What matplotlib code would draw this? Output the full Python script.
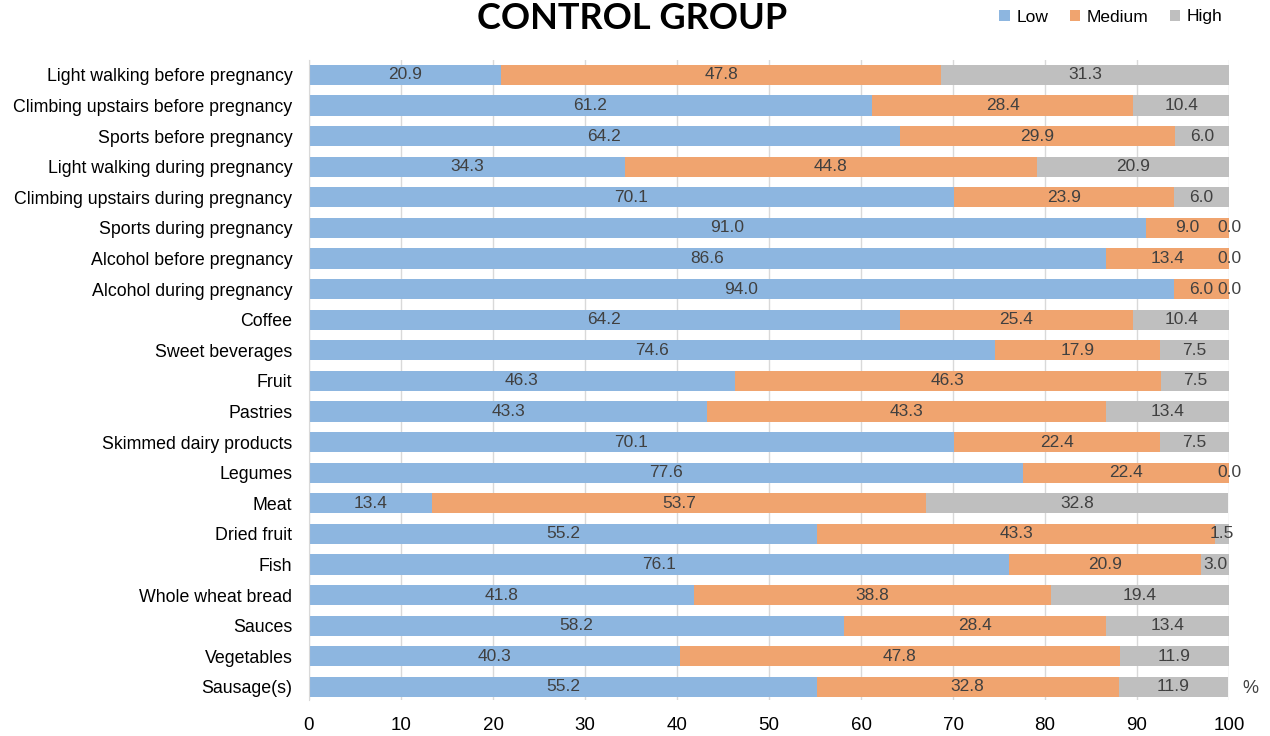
import numpy as np
import matplotlib.pyplot as plt
from matplotlib.patches import Patch

plt.rcParams['font.family'] = ['Liberation Sans', 'DejaVu Sans']

categories = [
    "Light walking before pregnancy",
    "Climbing upstairs before pregnancy",
    "Sports before pregnancy",
    "Light walking during pregnancy",
    "Climbing upstairs during pregnancy",
    "Sports during pregnancy",
    "Alcohol before pregnancy",
    "Alcohol during pregnancy",
    "Coffee",
    "Sweet beverages",
    "Fruit",
    "Pastries",
    "Skimmed dairy products",
    "Legumes",
    "Meat",
    "Dried fruit",
    "Fish",
    "Whole wheat bread",
    "Sauces",
    "Vegetables",
    "Sausage(s)",
]
low = [20.9, 61.2, 64.2, 34.3, 70.1, 91.0, 86.6, 94.0, 64.2, 74.6, 46.3,
       43.3, 70.1, 77.6, 13.4, 55.2, 76.1, 41.8, 58.2, 40.3, 55.2]
medium = [47.8, 28.4, 29.9, 44.8, 23.9, 9.0, 13.4, 6.0, 25.4, 17.9, 46.3,
          43.3, 22.4, 22.4, 53.7, 43.3, 20.9, 38.8, 28.4, 47.8, 32.8]
high = [31.3, 10.4, 6.0, 20.9, 6.0, 0.0, 0.0, 0.0, 10.4, 7.5, 7.5,
        13.4, 7.5, 0.0, 32.8, 1.5, 3.0, 19.4, 13.4, 11.9, 11.9]
series_names = ["Low", "Medium", "High"]
colors = ["#8DB6E0", "#F0A46F", "#BFBFBF"]
txt = "#404040"

fig = plt.figure(figsize=(12.7, 7.36), dpi=100)
ax = fig.add_axes([309 / 1270, 1 - 700 / 736, 920 / 1270, 640 / 736])

y = np.arange(len(categories))
left = np.zeros(len(categories))
for vals, name, col in zip([low, medium, high], series_names, colors):
    vals = np.array(vals)
    ax.barh(y, vals, left=left, height=0.66, color=col, label=name, zorder=2)
    for yi, l, v in zip(y, left, vals):
        ax.text(l + v / 2, yi, f"{v:.1f}", ha="center", va="center",
                fontsize=12.5, color=txt, zorder=3)
    left = left + vals

# 30.6 px per row, first row 15 px below the axes top
ax.set_ylim(-0.49 + 640 / 30.6, -0.49)
ax.set_xlim(0, 100)
ax.set_xticks(np.arange(0, 101, 10))
ax.set_yticks(y)
ax.set_yticklabels(categories, fontsize=12.8, color="black")
ax.tick_params(axis="y", length=0, pad=12)
ax.tick_params(axis="x", length=0, pad=12, labelsize=13.5, labelcolor="black")
ax.grid(axis="x", color="#D9D9D9", linewidth=1, zorder=0)
for s in ["top", "right", "bottom"]:
    ax.spines[s].set_visible(False)
ax.spines["left"].set_color("#D9D9D9")

ax.text(1.015, 0.005, "%", transform=ax.transAxes, fontsize=13,
        color=txt, ha="left", va="bottom")

fig.text(0.498, 1 - 29 / 736, "CONTROL GROUP", ha="center", va="baseline",
         fontsize=26, fontweight="bold", color="black", family="Lato")

handles = [Patch(facecolor=c, label=n) for c, n in zip(colors, series_names)]
fig.legend(handles=handles, loc="center right", bbox_to_anchor=(0.975, 1 - 17 / 736),
           ncol=3, frameon=False, fontsize=12.5, handlelength=0.6, handleheight=0.6,
           handletextpad=0.4, columnspacing=1.2, labelcolor="black")

fig.savefig("out.png", dpi=100)
